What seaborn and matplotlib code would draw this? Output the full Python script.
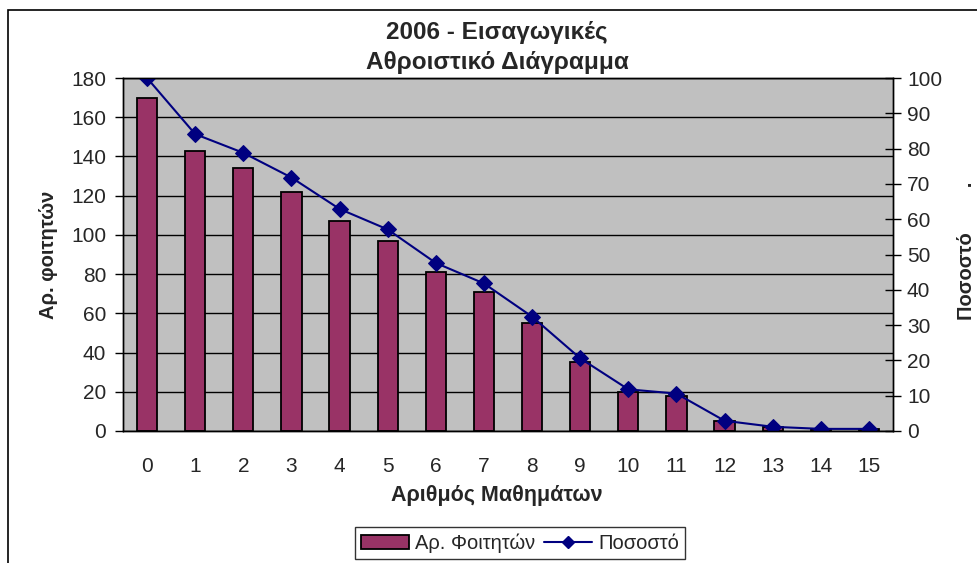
import pandas as pd
import matplotlib
matplotlib.use('Agg')
import matplotlib.pyplot as plt
import matplotlib.patches as mpatches
from matplotlib.lines import Line2D
from matplotlib.ticker import MultipleLocator
import seaborn as sns

# data
courses = list(range(16))
students = [170, 143, 134, 122, 107, 97, 81, 71, 55, 35, 20, 18, 5, 2, 1, 1]
percent = [100, 84.1, 78.8, 71.8, 62.9, 57.1, 47.6, 41.8, 32.4, 20.6, 11.8, 10.6, 2.9, 1.2, 0.6, 0.6]

title_1 = "2006 - Εισαγωγικές"
title_2 = "Αθροιστικό Διάγραμμα"
xlabel = "Αριθμός Μαθημάτων"
ylabel_left = "Αρ. φοιτητών"
ylabel_right = "Ποσοστό        ."
legend_labels = ["Αρ. Φοιτητών", "Ποσοστό"]

bar_color = "#993366"
line_color = "#000080"

sns.set_style("white")
plt.rcParams['font.family'] = ['Liberation Sans', 'DejaVu Sans']

df = pd.DataFrame({"courses": courses, "students": students, "percent": percent})

fig = plt.figure(figsize=(9.77, 5.63), dpi=100)
ax = fig.add_axes([123 / 977, 1 - 431 / 563, 770 / 977, 353 / 563])
ax.set_facecolor("#C0C0C0")

sns.barplot(data=df, x="courses", y="students", color=bar_color, width=0.42,
            edgecolor="black", linewidth=1.3, saturation=1, ax=ax, zorder=2)
ax.set_xlim(-0.5, 15.5)
ax.set_ylim(0, 180)
ax.yaxis.set_major_locator(MultipleLocator(20))
ax.grid(axis="y", color="black", linewidth=1, zorder=0)
ax.set_axisbelow(True)
ax.set_xlabel("")
ax.set_ylabel("")
ax.set_xticks(courses)
ax.set_xticklabels([str(c) for c in courses])
ax.set_xticks([c - 0.5 for c in courses] + [15.5], minor=True)
ax.tick_params(axis="x", which="major", length=0, pad=19, labelsize=15)
ax.tick_params(axis="x", which="minor", direction="inout", length=12, width=1, color="black")
ax.tick_params(axis="y", direction="out", length=6, width=1, color="black", labelsize=15, pad=6)
for s in ax.spines.values():
    s.set_color("black")
    s.set_linewidth(1)

ax2 = ax.twinx()
sns.lineplot(data=df, x="courses", y="percent", color=line_color, linewidth=1.5,
             marker="D", markersize=8, markeredgecolor=line_color, ax=ax2)
ax2.set_ylim(0, 100)
ax2.set_xlim(-0.5, 15.5)
ax2.yaxis.set_major_locator(MultipleLocator(10))
ax2.set_ylabel("")
ax2.tick_params(axis="y", direction="inout", length=12, width=1, color="black", labelsize=15, pad=4)
for s in ax2.spines.values():
    s.set_color("black")
    s.set_linewidth(1)

fig.text(497 / 977, 1 - 33 / 563, title_1, ha="center", va="center", fontsize=17.5, fontweight="bold")
fig.text(497 / 977, 1 - 63 / 563, title_2, ha="center", va="center", fontsize=17.5, fontweight="bold")
fig.text(497 / 977, 1 - 496 / 563, xlabel, ha="center", va="center", fontsize=15.5, fontweight="bold")
fig.text(48 / 977, 1 - 255 / 563, ylabel_left, ha="center", va="center", rotation=90,
         fontsize=14.5, fontweight="bold")
fig.text(966 / 977, 1 - 251 / 563, ylabel_right, ha="center", va="center", rotation=90,
         fontsize=14.5, fontweight="bold")

handles = [
    mpatches.Patch(facecolor=bar_color, edgecolor="black", linewidth=1.3),
    Line2D([0], [0], color=line_color, linewidth=1.5, marker="D", markersize=6),
]
leg = fig.legend(handles, legend_labels, loc="center", bbox_to_anchor=(520 / 977, 1 - 543 / 563),
                 ncol=2, fontsize=14.5, frameon=True, fancybox=False, edgecolor="black",
                 handlelength=2.4, handletextpad=0.3, columnspacing=0.4, borderpad=0.3)
leg.get_frame().set_linewidth(1)

# outer chart border (cropped at right and bottom in the reference)
fig.patches.append(mpatches.Rectangle((8 / 977, -0.2), 1.2, 1.2 - 10 / 563, transform=fig.transFigure,
                                      fill=False, edgecolor="black", linewidth=1.2))

fig.savefig("out.png", dpi=100)
